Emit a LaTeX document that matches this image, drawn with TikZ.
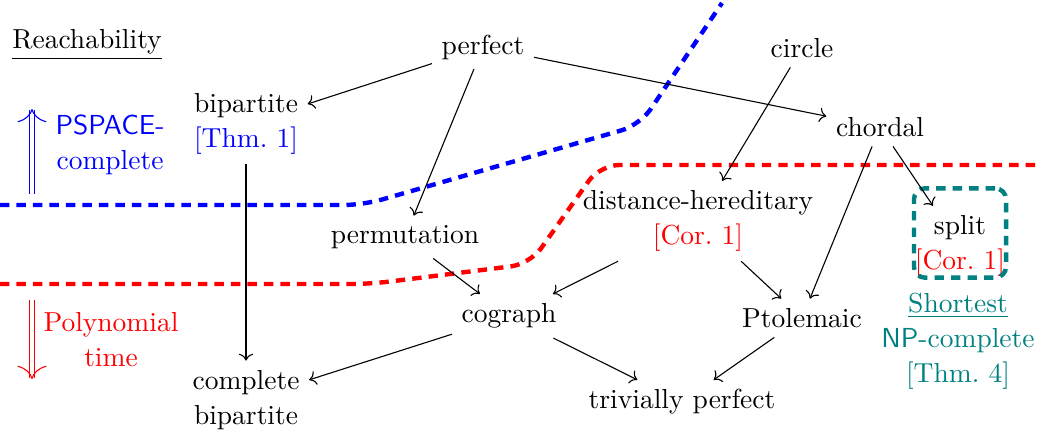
\documentclass[tikz,border=0pt]{standalone}
\usetikzlibrary{arrows.meta}
\definecolor{myteal}{rgb}{0,0.5,0.5}
\begin{document}
\begin{tikzpicture}[x=0.36364pt,y=-0.36364pt,
  cls/.style={align=center, font=\linespread{1.06}\selectfont},
  edge/.style={->},
  sepline/.style={line width=1.6pt, dash pattern=on 3.4pt off 2.6pt, rounded corners=7pt},
  dirarrow/.style={double, double distance=1.2pt, line width=0.4pt, -{To[length=4.8pt, width=10.5pt]}}
]
\useasboundingbox (0,0) rectangle (1040,436);
% separating lines
\draw[sepline, blue] (0,205) -- (363,205) -- (640,125) -- (722,3);
\draw[sepline, red] (0,284) -- (370,284) -- (530,264) -- (600,165) -- (1040,165);
% left labels
\node (reach) at (87,45) {\underline{Reachability}};
\node[cls, text=blue] (pspace) at (110,145) {\textsf{PSPACE}-\\complete};
\node[cls, text=red] (poly) at (111,340) {Polynomial\\time};
\coordinate (bupS) at (32,194);
\coordinate (bupE) at (32,109);
\coordinate (rdnS) at (32,300);
\coordinate (rdnE) at (32,379);
\draw[dirarrow, blue] (bupS) -- (bupE);
\draw[dirarrow, red] (rdnS) -- (rdnE);
% graph classes
\node (perfect) at (483,47) {perfect};
\node (circle) at (802,48) {circle};
\node[cls] (bip) at (246,124) {bipartite\\\textcolor{blue}{[Thm.~1]}};
\node (chordal) at (880,127) {chordal};
\node[cls] (dh) at (698,221) {distance-hereditary\\\textcolor{red}{[Cor.~1]}};
\node[cls] (split) at (960,246) {split\\\textcolor{red}{[Cor.~1]}};
\node[draw=myteal, sepline, minimum width=33.5pt, minimum height=32.5pt, rounded corners=4pt] (splitbox) at (960,233) {};
\node (perm) at (405,237) {permutation};
\node (cograph) at (509,316) {cograph};
\node (ptol) at (802,318) {Ptolemaic};
\node[cls, text=myteal] (shortest) at (958,341) {\underline{Shortest}\\\textsf{NP}-complete\\{}[Thm.~4]};
\node[cls] (cbip) at (246,400) {complete\\bipartite};
\node (triv) at (682,402) {trivially perfect};
% edges
\draw[edge] (perfect) -- (bip);
\draw[edge] (perfect) -- (perm);
\draw[edge] (perfect) -- (chordal);
\draw[edge] (circle) -- (dh);
\draw[edge] (chordal) -- (split);
\draw[edge] (chordal) -- (ptol);
\draw[edge] (bip) -- (cbip);
\draw[edge] (perm) -- (cograph);
\draw[edge] (dh) -- (cograph);
\draw[edge] (dh) -- (ptol);
\draw[edge] (cograph) -- (cbip);
\draw[edge] (cograph) -- (triv);
\draw[edge] (ptol) -- (triv);
\end{tikzpicture}
\end{document}
